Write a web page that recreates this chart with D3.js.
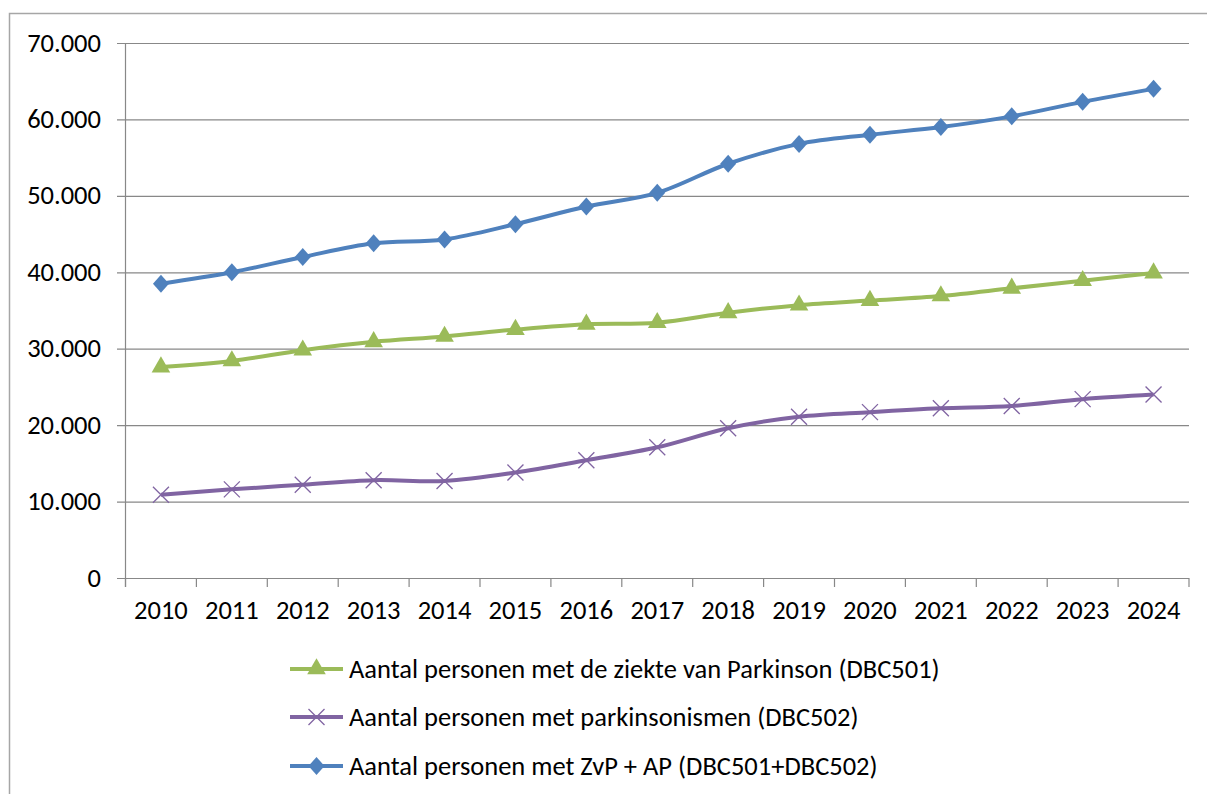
<!DOCTYPE html>
<html><head><meta charset="utf-8">
<script src="https://cdn.jsdelivr.net/npm/d3@7"></script>
<style>body{margin:0;background:#fff}svg{display:block}text{font-family:Carlito,"Open Sans","Noto Sans",sans-serif;fill:#000}</style>
</head><body>
<svg id="c" width="1207" height="794"></svg>
<script>
const years = ["2010","2011","2012","2013","2014","2015","2016","2017","2018","2019","2020","2021","2022","2023","2024"];
const parkinson = [27600,28400,29800,30900,31600,32500,33200,33400,34700,35700,36300,36900,37900,38900,39900];
const parkinsonismen = [10900,11600,12200,12800,12700,13800,15400,17100,19600,21100,21700,22200,22500,23400,24000];
const totaal = [38500,40000,42000,43800,44300,46300,48600,50400,54200,56800,58000,59000,60400,62300,64000];
const yTicks = [0,10000,20000,30000,40000,50000,60000,70000];
const seriesNames = ["Aantal personen met de ziekte van Parkinson (DBC501)","Aantal personen met parkinsonismen (DBC502)","Aantal personen met ZvP + AP (DBC501+DBC502)"];

const svg = d3.select("#c");
svg.append("path").attr("d","M9.5,794 V13.5 H1207").attr("fill","none").attr("stroke","#a6a6a6").attr("stroke-width",1.5);

const L=125.5,R=1189,T=43,B=578;
const FS = "26.5px";
const x = d3.scaleBand().domain(years).range([L,R]);
const y = d3.scaleLinear().domain([0,70000]).range([B,T]);
const fmt = v => v===0 ? "0" : d3.format(",")(v).replace(/,/g,".");

// gridlines
svg.append("g").selectAll("line").data(yTicks).join("line")
  .attr("x1",117).attr("x2",R).attr("y1",d=>y(d)+0.5).attr("y2",d=>y(d)+0.5)
  .attr("stroke","#888").attr("stroke-width",1.2);
svg.append("g").selectAll("text").data(yTicks).join("text")
  .attr("x",101).attr("y",d=>y(d)+8.5).attr("text-anchor","end").style("font-size",FS).text(fmt);
// y axis line
svg.append("line").attr("x1",L).attr("x2",L).attr("y1",T).attr("y2",587).attr("stroke","#888").attr("stroke-width",1.2);
// x ticks
const edges = years.map(d=>x(d)).concat([R]);
svg.append("g").selectAll("line").data(edges).join("line")
  .attr("x1",d=>d).attr("x2",d=>d).attr("y1",B).attr("y2",587).attr("stroke","#888").attr("stroke-width",1.2);
svg.append("g").selectAll("text").data(years).join("text")
  .attr("x",d=>x(d)+x.bandwidth()/2).attr("y",619).attr("text-anchor","middle").style("font-size",FS).text(d=>d);

const cx = d=>x(d)+x.bandwidth()/2;
const series = [
  {vals:parkinson,color:"#9BBB59",sym:"tri"},
  {vals:parkinsonismen,color:"#8064A2",sym:"x"},
  {vals:totaal,color:"#4F81BD",sym:"dia"}
];
const line = d3.line().x((d,i)=>cx(years[i])).y(d=>y(d)).curve(d3.curveCatmullRom.alpha(0.5));
function marker(g,type,color){
  if(type==="tri") g.append("path").attr("d",d3.symbol(d3.symbolTriangle,150)()).attr("fill",color);
  else if(type==="dia") g.append("path").attr("d","M0,-9 L8,0 L0,9 L-8,0Z").attr("fill",color);
  else g.append("path").attr("d","M-8,-8L8,8M-8,8L8,-8").attr("stroke",color).attr("stroke-width",1.3).attr("fill","none");
}
series.forEach(s=>{
  svg.append("path").attr("d",line(s.vals)).attr("fill","none").attr("stroke",s.color).attr("stroke-width",4).attr("stroke-linejoin","round");
  s.vals.forEach((v,i)=>{
    const g = svg.append("g").attr("transform",`translate(${cx(years[i])},${y(v)})`);
    marker(g,s.sym,s.color);
  });
});

// legend
const legY=[669,717,766];
series.forEach((s,i)=>{
  svg.append("line").attr("x1",290).attr("x2",343).attr("y1",legY[i]).attr("y2",legY[i]).attr("stroke",s.color).attr("stroke-width",4);
  const g = svg.append("g").attr("transform",`translate(316.5,${legY[i]})`);
  marker(g,s.sym,s.color);
  svg.append("text").attr("x",349).attr("y",legY[i]+9).style("font-size",FS).text(seriesNames[i]);
});
</script>
</body></html>
